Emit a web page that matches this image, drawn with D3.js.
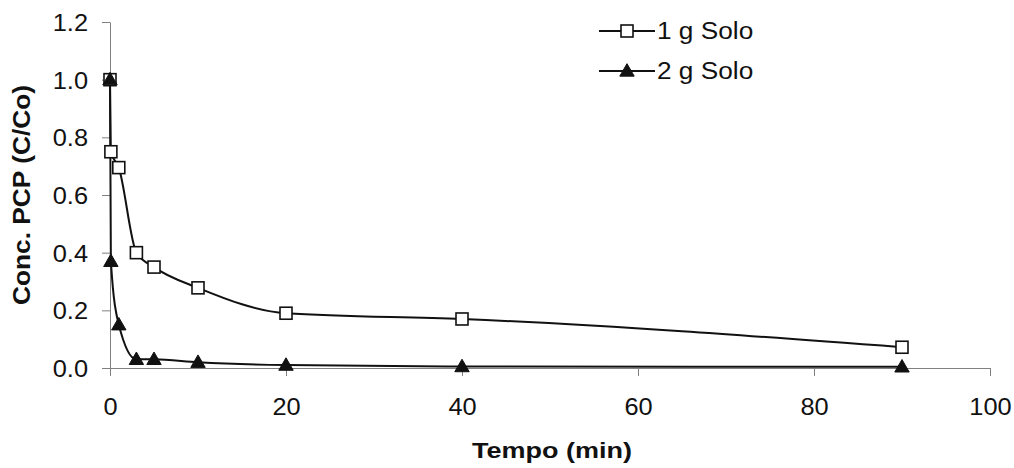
<!DOCTYPE html>
<html>
<head>
<meta charset="utf-8">
<script src="https://cdn.jsdelivr.net/npm/d3@7"></script>
<style>
  html, body { margin: 0; padding: 0; background: #fff; }
  svg { display: block; font-family: Arial, "Liberation Sans", sans-serif; }
</style>
</head>
<body>
<svg id="chart" width="1014" height="468"></svg>
<script>
// Adsorption of PCP over time: relative concentration C/Co for two soil masses
const timeSolo1 = [0, 0.1, 1, 3, 5, 10, 20, 40, 90];
const concSolo1 = [1.0, 0.75, 0.695, 0.40, 0.35, 0.278, 0.19, 0.17, 0.072];
const timeSolo2 = [0, 0.1, 1, 3, 5, 10, 20, 40, 90];
const concSolo2 = [1.0, 0.37, 0.15, 0.03, 0.03, 0.02, 0.01, 0.005, 0.004];
const seriesNames = ["1 g Solo", "2 g Solo"];
const xTicks = [0, 20, 40, 60, 80, 100];
const yTicks = [0.0, 0.2, 0.4, 0.6, 0.8, 1.0, 1.2];

const svg = d3.select("#chart");

const x = d3.scaleLinear().domain([0, 100]).range([110, 990]);
const y = d3.scaleLinear().domain([0, 1.2]).range([368, 22]);

const axisColor = "#808080";
const ink = "#111";

// Widen glyphs horizontally by a factor (the lettering is set slightly extended)
function widen(sel, k) {
  sel.each(function () {
    const len = this.getComputedTextLength();
    d3.select(this).attr("textLength", len * k).attr("lengthAdjust", "spacingAndGlyphs");
  });
}

// Axes
const xAxis = svg.append("g").attr("transform", `translate(0,${y(0)})`)
  .call(d3.axisBottom(x).tickValues(xTicks).tickFormat(d3.format("d")).tickSizeInner(8).tickSizeOuter(0).tickPadding(22));
const yAxis = svg.append("g").attr("transform", `translate(${x(0)},0)`)
  .call(d3.axisLeft(y).tickValues(yTicks).tickFormat(d3.format(".1f")).tickSizeInner(8).tickSizeOuter(0).tickPadding(14));

[xAxis, yAxis].forEach(g => {
  g.select(".domain").attr("stroke", axisColor).attr("stroke-width", 1);
  g.selectAll(".tick line").attr("stroke", axisColor).attr("stroke-width", 1);
  g.selectAll(".tick text").attr("fill", ink).attr("font-size", 23.5)
    .attr("font-family", "Arial, 'Liberation Sans', sans-serif");
  widen(g.selectAll(".tick text"), 1.08);
});
yAxis.selectAll(".tick text").attr("dy", "0.36em");

// Axis titles
svg.append("text")
  .attr("x", 552).attr("y", 458)
  .attr("text-anchor", "middle")
  .attr("font-size", 22).attr("font-weight", "bold").attr("fill", ink)
  .attr("textLength", 160).attr("lengthAdjust", "spacingAndGlyphs")
  .text("Tempo (min)");

svg.append("text")
  .attr("transform", `translate(30,195) rotate(-90)`)
  .attr("text-anchor", "middle")
  .attr("font-size", 24).attr("font-weight", "bold").attr("fill", ink)
  .attr("textLength", 220).attr("lengthAdjust", "spacingAndGlyphs")
  .text("Conc. PCP (C/Co)");

// Series
const line = d3.line().x(d => x(d[0])).y(d => y(d[1])).curve(d3.curveMonotoneX);

const s1 = timeSolo1.map((t, i) => [t, concSolo1[i]]);
const s2 = timeSolo2.map((t, i) => [t, concSolo2[i]]);

svg.append("path").datum(s1).attr("d", line)
  .attr("fill", "none").attr("stroke", ink).attr("stroke-width", 2);
svg.append("path").datum(s2).attr("d", line)
  .attr("fill", "none").attr("stroke", ink).attr("stroke-width", 2);

const sq = 12;
const triSym = d3.symbol().type(d3.symbolTriangle).size(90);

function drawSquare(g, cx, cy) {
  g.append("rect")
    .attr("x", cx - sq / 2).attr("y", cy - sq / 2)
    .attr("width", sq).attr("height", sq)
    .attr("fill", "#fff").attr("stroke", ink).attr("stroke-width", 1.6);
}
function drawTriangle(g, cx, cy) {
  g.append("path").attr("d", triSym)
    .attr("transform", `translate(${cx},${cy + 1})`)
    .attr("fill", ink).attr("stroke", ink).attr("stroke-width", 1);
}

const m1 = svg.append("g");
s1.forEach(d => drawSquare(m1, x(d[0]), y(d[1])));
const m2 = svg.append("g");
s2.forEach(d => drawTriangle(m2, x(d[0]), y(d[1])));

// Legend
const legend = svg.append("g");
const legendRows = [
  { name: seriesNames[0], y: 31, draw: drawSquare },
  { name: seriesNames[1], y: 71, draw: drawTriangle }
];
legendRows.forEach(r => {
  legend.append("line").attr("x1", 599).attr("x2", 655).attr("y1", r.y).attr("y2", r.y)
    .attr("stroke", ink).attr("stroke-width", 2);
  r.draw(legend, 627, r.y);
  legend.append("text").attr("x", 657).attr("y", r.y).attr("dy", "0.36em")
    .attr("font-size", 23).attr("fill", ink).text(r.name);
});
widen(legend.selectAll("text"), 1.14);
</script>
</body>
</html>
